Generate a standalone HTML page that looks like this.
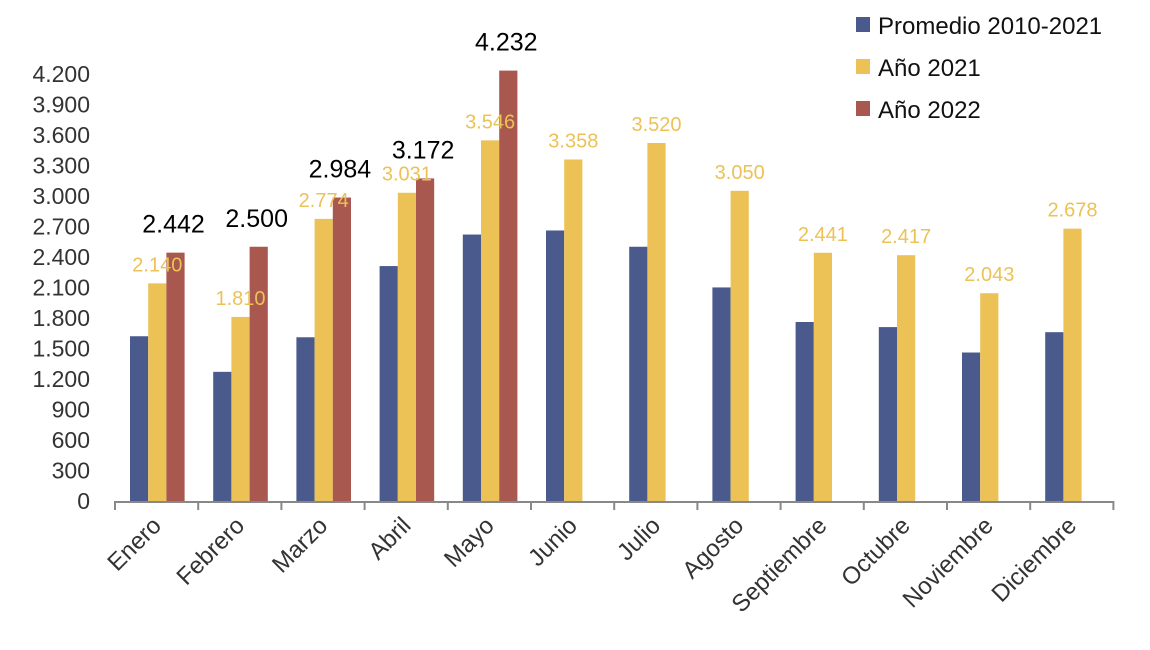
<!DOCTYPE html>
<html><head><meta charset="utf-8"><style>
body{margin:0;background:#fff;}
svg{display:block;font-family:"Liberation Sans","DejaVu Sans",sans-serif;}
</style></head><body>
<svg id="chart" width="1150" height="650"></svg>
<script>
const categories=["Enero","Febrero","Marzo","Abril","Mayo","Junio","Julio","Agosto","Septiembre","Octubre","Noviembre","Diciembre"];
const promedio=[1620,1270,1610,2310,2620,2660,2500,2100,1760,1710,1460,1660];
const anio2021=[2140,1810,2774,3031,3546,3358,3520,3050,2441,2417,2043,2678];
const anio2022=[2442,2500,2984,3172,4232,null,null,null,null,null,null,null];
const yTicks=[0,300,600,900,1200,1500,1800,2100,2400,2700,3000,3300,3600,3900,4200];
const seriesNames=["Promedio 2010-2021","Año 2021","Año 2022"];
const colors=["#4a5a8c","#ecc257","#a9584f"];
const svg=document.getElementById('chart');
const NS="http://www.w3.org/2000/svg";
const x0=115,slot=83.2,y0=501,k=0.1017,bw=18.2,off=15;
const y=v=>y0-v*k;
const xs=(i,s)=>x0+i*slot+off+s*bw;
function mk(t,a,txt){const e=document.createElementNS(NS,t);for(const n in a)e.setAttribute(n,a[n]);if(txt!=null)e.textContent=txt;svg.appendChild(e);return e;}
const fmt=v=>{const s=String(v);return s.length>3?s.slice(0,-3)+"."+s.slice(-3):s;};
yTicks.forEach(v=>{const t=mk('text',{x:90,y:y(v)+8,'text-anchor':'end','font-size':23,fill:'#333'},fmt(v));

});
const data=[promedio,anio2021,anio2022];
data.forEach((arr,s)=>arr.forEach((v,i)=>{if(v==null)return;
const r=mk('rect',{x:xs(i,s),y:y(v),width:bw,height:v*k,fill:colors[s]});

}));
anio2021.forEach((v,i)=>{const t=mk('text',{x:xs(i,1)+bw/2,y:y(v)-12,'text-anchor':'middle','font-size':20,fill:'#ecc257'},fmt(v));

});
anio2022.forEach((v,i)=>{if(v==null)return;const t=mk('text',{x:xs(i,2)+bw/2-2,y:y(v)-20,'text-anchor':'middle','font-size':25,fill:'#000'},fmt(v));

});
const ax=mk('line',{x1:x0,y1:y0+1,x2:x0+12*slot,y2:y0+1,stroke:'#888','stroke-width':2});


for(let i=0;i<=12;i++){const tk=mk('line',{x1:x0+i*slot,y1:y0,x2:x0+i*slot,y2:y0+9,stroke:'#888','stroke-width':2});

}
categories.forEach((c,i)=>{const cx=x0+i*slot+slot/2+6,cy=y0+26;
const t=mk('text',{x:cx,y:cy,'text-anchor':'end','font-size':24,fill:'#333',transform:`rotate(-45 ${cx} ${cy})`},c);

});
seriesNames.forEach((n,s)=>{const ly=26+s*42;
const r=mk('rect',{x:856,y:ly-9,width:14,height:15,fill:colors[s]});


const t=mk('text',{x:878,y:ly+8,'font-size':24,fill:'#111'},n);

});
</script>
</body></html>
